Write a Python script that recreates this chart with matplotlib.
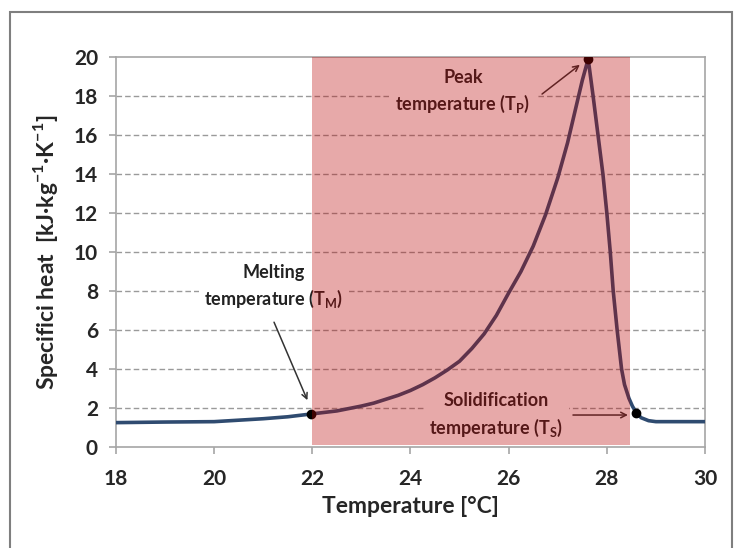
import matplotlib
matplotlib.use("Agg")
import matplotlib.pyplot as plt
from matplotlib.patches import Rectangle

plt.rcParams['font.family'] = ['Lato', 'DejaVu Sans']

# curva del calore specifico
temp = [18, 19, 20, 21, 21.5, 22, 22.5, 23, 23.25, 23.5, 23.75, 24, 24.25, 24.5,
        24.75, 25, 25.25, 25.5, 25.75, 26, 26.25, 26.5, 26.75, 27.0, 27.2, 27.35,
        27.5, 27.62, 27.72, 27.82, 27.92, 28.0, 28.07, 28.13, 28.21, 28.3, 28.36,
        28.45, 28.52, 28.6, 28.7, 28.85, 29.0, 30]
cp = [1.25, 1.28, 1.3, 1.45, 1.55, 1.7, 1.85, 2.1, 2.25, 2.45, 2.65, 2.9, 3.2, 3.55,
      3.95, 4.4, 5.05, 5.8, 6.75, 7.9, 9.0, 10.3, 11.9, 13.8, 15.6, 17.2,
      18.8, 19.9, 18, 16, 14, 12, 10, 8, 6, 4, 3.2,
      2.5, 2.1, 1.75, 1.5, 1.35, 1.3, 1.3]

# punti caratteristici
t_melt, cp_melt = 21.97, 1.7
t_peak, cp_peak = 27.62, 19.9
t_sol, cp_sol = 28.6, 1.75

# intervallo di cambiamento di fase
shade_start, shade_end = 22.0, 28.48

xticks = [18, 20, 22, 24, 26, 28, 30]
yticks = [0, 2, 4, 6, 8, 10, 12, 14, 16, 18, 20]

fig = plt.figure(figsize=(7.34, 5.48), dpi=100)
ax = fig.add_axes([0.158, 0.1843, 0.8025, 0.7117])

# cornice esterna
fig.patches.append(Rectangle((10 / 734, -0.01), 722 / 734, 1 - 12 / 548 + 0.01,
                             transform=fig.transFigure, fill=False,
                             edgecolor='#7f7f7f', lw=1.5))

for y in yticks[1:-1]:
    ax.axhline(y, color='#9a9a9a', lw=1, ls=(0, (4, 2.2)), zorder=1)

ax.plot(temp, cp, color='#2f4b70', lw=2.6, zorder=4, solid_joinstyle='round')
ax.plot([t_melt, t_peak, t_sol], [cp_melt, cp_peak, cp_sol], 'o',
        color='black', ms=6, zorder=5)

box = dict(facecolor='white', edgecolor='none', pad=4)
txt = dict(ha='center', va='center', fontsize=13, fontweight='bold',
           color='#222222', linespacing=1.45, bbox=box, zorder=3)
ax.text(21.22, 8.2, 'Melting\ntemperature (T$_\\mathregular{M}$)', **txt)
ax.text(25.07, 18.2, 'Peak\ntemperature (T$_\\mathregular{P}$)', **txt)
ax.text(25.75, 1.6, 'Solidification\ntemperature (T$_\\mathregular{S}$)', **txt)

arrow = dict(arrowstyle='->', color='#333333', lw=1.1, shrinkA=0, shrinkB=0)
ax.annotate('', xy=(21.9, 2.4), xytext=(21.22, 6.4), arrowprops=arrow, zorder=6)
ax.annotate('', xy=(27.45, 19.6), xytext=(26.68, 18.1), arrowprops=arrow, zorder=6)
ax.annotate('', xy=(28.43, 1.64), xytext=(27.31, 1.64), arrowprops=arrow, zorder=6)

# velatura rossa sopra tutto
ax.add_patch(Rectangle((shade_start, 0.12), shade_end - shade_start, 20 - 0.12,
                       facecolor=(0.73, 0.02, 0.02), alpha=0.34,
                       edgecolor='none', zorder=10))

ax.set_xlim(18, 30)
ax.set_ylim(0, 20)
ax.set_xticks(xticks)
ax.set_yticks(yticks)
for s in ax.spines.values():
    s.set_color('#a6a6a6')
    s.set_linewidth(1.2)
ax.tick_params(colors='#a6a6a6', labelcolor='#262626', labelsize=15,
               length=5, width=1.2, direction='out')
ax.tick_params(axis='x', pad=11)
ax.tick_params(axis='y', pad=8)
for lab in ax.get_xticklabels() + ax.get_yticklabels():
    lab.set_fontweight('bold')
ax.set_xlabel('Temperature [°C]', fontsize=16.5, fontweight='bold',
              color='#262626', labelpad=5)
ax.set_ylabel('Specifici heat  [kJ·kg$^{\\mathregular{-1}}$·K$^{\\mathregular{-1}}$]',
              fontsize=16.5, fontweight='bold', color='#262626', labelpad=10)

fig.savefig('out.png', dpi=100)
